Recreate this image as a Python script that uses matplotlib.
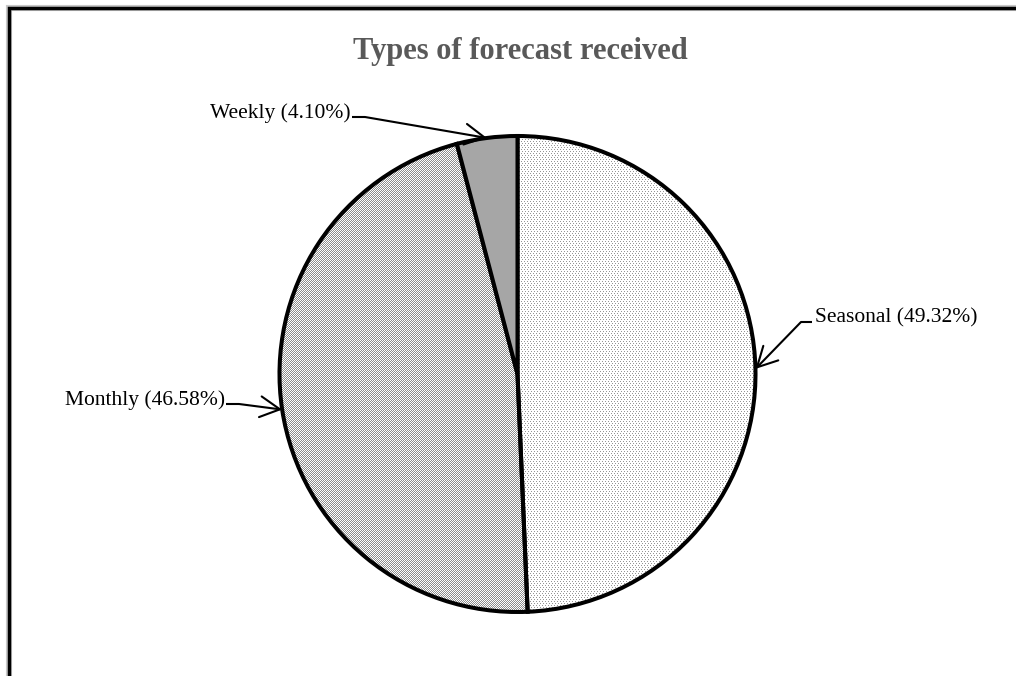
import matplotlib
matplotlib.use("Agg")
import matplotlib.pyplot as plt
import numpy as np
from matplotlib.patches import Rectangle

# forecast types, share of respondents (%)
categories = ["Seasonal", "Monthly", "Weekly"]
shares = [49.32, 46.58, 4.10]
labels = [f"{c} ({v:.2f}%)" for c, v in zip(categories, shares)]

W, H = 1016, 676
SERIF = ["Liberation Serif", "DejaVu Serif"]

fig = plt.figure(figsize=(W / 100, H / 100), dpi=100)
fig.patch.set_facecolor("white")
# axes in pixel units (y up) across the whole figure
ax = fig.add_axes([0, 0, 1, 1])

cx, cy, R = 517.5, H - 374, 238

wedges, _ = ax.pie(shares, startangle=90, counterclock=False,
                   center=(cx, cy), radius=R, frame=False,
                   colors=["none", "none", "#a6a6a6"],
                   wedgeprops=dict(edgecolor="black", linewidth=2.9, zorder=3))

# fine fill textures, one pixel per screen pixel
yy, xx = np.mgrid[0:H, 0:W]
dots = np.full((H, W), 255.0)
dots[(yy % 2 == 0) & ((xx + (yy // 2) % 2) % 3 == 0)] = 150
checker = np.where((xx + yy) % 2 == 0, 140.0, 255.0)

for wedge, tex in zip(wedges[:2], [dots, checker]):
    im = ax.imshow(tex, extent=(0, W, 0, H), origin="lower", cmap="gray",
                   vmin=0, vmax=255, interpolation="nearest", zorder=2)
    im.set_clip_path(wedge)

ax.set_xlim(0, W)
ax.set_ylim(0, H)
ax.set_aspect("auto")
ax.axis("off")

# callouts: text anchor, side, elbow length
label_pos = [(815, H - 318, "left"), (225, H - 400, "right"), (351, H - 113, "right")]
for wedge, text, (tx, ty, ha) in zip(wedges, labels, label_pos):
    mid = np.deg2rad((wedge.theta1 + wedge.theta2) / 2)
    tip = (cx + R * np.cos(mid), cy + R * np.sin(mid))
    ax.text(tx, ty, text, ha=ha, va="center", fontsize=15.5, family=SERIF,
            color="black")
    ly = ty - 4
    if ha == "left":
        x0, x1 = tx - 3, tx - 14
    else:
        x0, x1 = tx + 1, tx + 14
    ax.plot([x0, x1], [ly, ly], color="black", lw=1.5, solid_capstyle="butt")
    ax.annotate("", xy=tip, xytext=(x1, ly),
                arrowprops=dict(arrowstyle="->,head_length=0.95,head_width=0.5",
                                mutation_scale=15, color="black", lw=1.5,
                                shrinkA=0, shrinkB=0))

ax.text(520, H - 52, "Types of forecast received", ha="center", va="center",
        fontsize=22, fontweight="bold", family=SERIF, color="#595959")

# chart frame, running off the right and bottom edges
ax.add_patch(Rectangle((8.5, -20), W + 40, H - 8 + 20, fill=False,
                       edgecolor="#c8c8c8", lw=4.4, zorder=5, clip_on=False))
ax.add_patch(Rectangle((8.5, -20), W + 40, H - 8 + 20, fill=False,
                       edgecolor="black", lw=2.5, zorder=6, clip_on=False))

fig.savefig("out.png", dpi=100)
